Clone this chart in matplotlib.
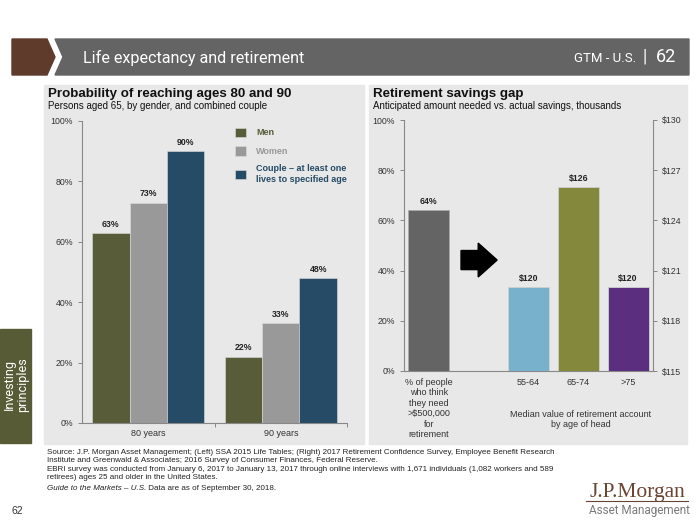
import numpy as np
import matplotlib.pyplot as plt
from matplotlib.patches import Polygon, Rectangle, FancyArrow

plt.rcParams['font.family'] = ['Liberation Sans', 'DejaVu Sans']

# Left chart: probability of reaching ages 80 and 90
ages = ['80 years', '90 years']
men = [63, 22]
women = [73, 33]
couple = [90, 48]
legend_labels = ['Men', 'Women', 'Couple – at least one\nlives to specified age']

# Right chart: retirement savings gap
need_label = '% of people\nwho think\nthey need\n>$500,000\nfor\nretirement'
need_pct = [64]
age_groups = ['55-64', '65-74', '>75']
median_savings = [120, 126, 120]

c_men, c_women, c_couple = '#585c38', '#999999', '#254b66'
c_need = '#646464'
c_groups = ['#78b1cb', '#84883d', '#5b2e80']
narrow = ['Liberation Sans Narrow', 'Roboto', 'DejaVu Sans']

W, H = 700, 525
fig = plt.figure(figsize=(7, 5.25), dpi=100)


def box(x0, y0, x1, y1):
    # pixel box (top-left origin) -> figure fraction rect
    return [x0 / W, 1 - y1 / H, (x1 - x0) / W, (y1 - y0) / H]


# background layer in pixel coords
bg = fig.add_axes([0, 0, 1, 1])
bg.set_xlim(0, W)
bg.set_ylim(H, 0)
bg.axis('off')

bg.add_patch(Polygon([(12, 39), (47, 39), (55, 57), (47, 75), (12, 75)], color='#5f3b2c'))
bg.add_patch(Polygon([(55, 39), (689, 39), (689, 75), (55, 75), (63, 57)], color='#646464'))
bg.text(83, 57.5, 'Life expectancy and retirement', color='white', fontsize=11.6,
        family=narrow, va='center')
bg.text(636, 58, 'GTM - U.S.', color='white', fontsize=9.5, family=narrow, va='center', ha='right')
bg.text(645, 57, '|', color='white', fontsize=13, family=narrow, va='center', ha='center')
bg.text(676, 57.5, '62', color='white', fontsize=13, family=narrow, va='center', ha='right')

bg.add_patch(Rectangle((44, 85), 320, 359, color='#e8e8e8'))
bg.add_patch(Rectangle((369, 85), 318, 359, color='#e8e8e8'))
bg.add_patch(Rectangle((0, 329), 31, 114, color='#585c36'))
bg.text(16, 385, 'Investing\nprinciples', color='white', fontsize=9, family=narrow,
        rotation=90, ha='center', va='center', linespacing=0.95)

bg.text(48, 94, 'Probability of reaching ages 80 and 90', fontsize=9.6, fontweight='bold',
        va='center', color='#111111')
bg.text(48, 106, 'Persons aged 65, by gender, and combined couple', fontsize=7,
        va='center', color='#111111')
bg.text(373, 94, 'Retirement savings gap', fontsize=9.6, fontweight='bold',
        va='center', color='#111111')
bg.text(373, 106, 'Anticipated amount needed vs. actual savings, thousands', fontsize=7,
        va='center', color='#111111')

footer = ('Source: J.P. Morgan Asset Management; (Left) SSA 2015 Life Tables; (Right) 2017 Retirement '
          'Confidence Survey, Employee Benefit Research\n'
          'Institute and Greenwald & Associates; 2016 Survey of Consumer Finances, Federal Reserve.\n'
          'EBRI survey was conducted from January 6, 2017 to January 13, 2017 through online interviews '
          'with 1,671 individuals (1,082 workers and 589\n'
          'retirees) ages 25 and older in the United States.')
bg.text(47, 448.5, footer, fontsize=5.75, va='top', color='#222222', linespacing=1.32)
t_it = bg.text(47, 489.5, 'Guide to the Markets – U.S.', fontsize=5.75, style='italic',
               va='baseline', color='#222222')
bg.annotate(' Data are as of September 30, 2018.', xy=(1, 0), xycoords=t_it, fontsize=5.75,
            va='bottom', color='#222222')

bg.text(12, 514, '62', fontsize=7.5, color='#333333', va='baseline')
bg.text(637, 497, 'J.P.Morgan', family=['Liberation Serif'], fontsize=15.5, color='#6a4535',
        ha='center', va='baseline')
bg.plot([586, 688], [500.5, 500.5], color='#6a4535', lw=0.8)
bg.text(639, 514, 'Asset Management', family=narrow, fontsize=8.5, color='#7a7a7a',
        ha='center', va='baseline')

tick_color = '#888888'
label_color = '#333333'

# ---- left chart ----
ax1 = fig.add_axes(box(82, 121, 347, 423))
ax1.set_facecolor('none')
x = np.arange(len(ages))
w = 0.283
b1 = ax1.bar(x - w, men, w, color=c_men, edgecolor='#dcdcdc', lw=0.4)
b2 = ax1.bar(x, women, w, color=c_women, edgecolor='#dcdcdc', lw=0.4)
b3 = ax1.bar(x + w, couple, w, color=c_couple, edgecolor='#dcdcdc', lw=0.4)
for b in (b1, b2, b3):
    ax1.bar_label(b, fmt='{:.0f}%', padding=3, fontsize=6.3, fontweight='bold', color='#222222')
ax1.set_xlim(-0.5, 1.5)
ax1.set_ylim(0, 100)
ax1.set_yticks(np.arange(0, 101, 20), [f'{v}%' for v in range(0, 101, 20)])
ax1.set_xticks(x, ages)
ax1.set_xticks([0.5, 1.5], minor=True)
ax1.tick_params(axis='x', which='major', length=0, pad=4.5, labelsize=6.5, labelcolor=label_color)
ax1.tick_params(axis='x', which='minor', length=3, color=tick_color, width=0.7)
ax1.tick_params(axis='y', length=3, color=tick_color, width=0.7, labelsize=6.3, labelcolor=label_color)
for s in ('top', 'right'):
    ax1.spines[s].set_visible(False)
for s in ('left', 'bottom'):
    ax1.spines[s].set_color(tick_color)
    ax1.spines[s].set_linewidth(0.8)
leg = ax1.legend([b1, b2, b3], legend_labels, loc='upper left', bbox_to_anchor=(0.545, 1.005),
                 frameon=False, prop={'size': 6.5, 'weight': 'bold'},
                 labelcolor=[c_men, c_women, c_couple], handlelength=1.25, handleheight=1.25,
                 handletextpad=1.15, labelspacing=0.95)

# ---- right chart ----
ax2 = fig.add_axes(box(404, 120, 653, 371))
ax2.set_facecolor('none')
pos_need = [0.5]
pos_groups = np.arange(len(age_groups)) + 2.5
bw = 0.82
bn = ax2.bar(pos_need, need_pct, bw, color=c_need, edgecolor='#aaaaaa', lw=0.6)
ax2.bar_label(bn, fmt='{:.0f}%', padding=3, fontsize=6.3, fontweight='bold', color='#222222')
ax2.set_xlim(0, 5)
ax2.set_ylim(0, 100)
ax2.set_yticks(np.arange(0, 101, 20), [f'{v}%' for v in range(0, 101, 20)])
ax2.set_xticks(list(pos_need) + list(pos_groups), [need_label] + age_groups)
ax2.tick_params(axis='x', length=0, pad=5, labelsize=6.5, labelcolor=label_color)
ax2.tick_params(axis='y', length=3, color=tick_color, width=0.7, labelsize=6.3, labelcolor=label_color)
for s in ('top', 'right'):
    ax2.spines[s].set_visible(False)
for s in ('left', 'bottom'):
    ax2.spines[s].set_color(tick_color)
    ax2.spines[s].set_linewidth(0.8)

ax3 = ax2.twinx()
bg_bars = ax3.bar(pos_groups, median_savings, bw, color=c_groups, edgecolor='#d0d0d0', lw=0.6)
ax3.bar_label(bg_bars, fmt='${:.0f}', padding=3, fontsize=6.3, fontweight='bold', color='#222222')
ax3.set_ylim(115, 130)
ax3.set_yticks(np.arange(115, 131, 3), [f'${v}' for v in range(115, 131, 3)])
ax3.tick_params(axis='y', length=3, color=tick_color, width=0.7, labelsize=6.3, labelcolor=label_color)
for s in ('top', 'left', 'bottom'):
    ax3.spines[s].set_visible(False)
ax3.spines['right'].set_color(tick_color)
ax3.spines['right'].set_linewidth(0.8)

ax2.add_patch(FancyArrow(0.229, 0.442, 0.145, 0, width=0.076, head_width=0.135,
                         head_length=0.076, length_includes_head=True,
                         transform=ax2.transAxes, color='black', clip_on=False))
ax2.text(0.71, -0.155, 'Median value of retirement account\nby age of head',
         transform=ax2.transAxes, ha='center', va='top', fontsize=6.5, color=label_color)

fig.savefig('out.png', dpi=100)
